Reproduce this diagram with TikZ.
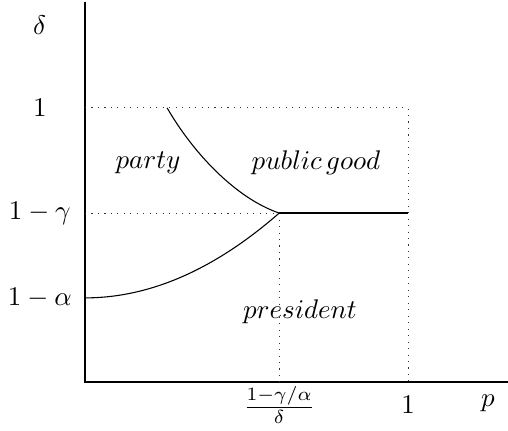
\documentclass[tikz,border=0pt]{standalone}
\usepackage{amsmath,amssymb}
\usepackage{tikz}
\usetikzlibrary{calc}

\begin{document}
\begin{tikzpicture}[
  axis/.style={semithick,black},
  guide/.style={dotted,black!80},
  bound/.style={black},
  region/.style={font=\normalsize}]
  \useasboundingbox (-1.108,-0.639) rectangle (5.512,4.977);
  % key points
  \coordinate (O) at (0,0);
  \coordinate (ytop) at (0,4.95);
  \coordinate (xend) at (5.51,0);
  \coordinate (one) at (0,3.57);
  \coordinate (oneg) at (0,2.20);
  \coordinate (onea) at (0,1.095);
  \coordinate (corner) at (4.21,3.57);
  \coordinate (pone) at (4.21,0);
  \coordinate (kink) at (2.53,2.20);
  \coordinate (kfoot) at (2.53,0);
  \coordinate (edge) at (4.21,2.20);
  \coordinate (cstart) at (1.07,3.57);
  % axes
  \draw[axis] (ytop) -- (O) -- (xend);
  % guides
  \draw[guide] (one) -- (corner) -- (pone);
  \draw[guide] (oneg) -- (kink) -- (kfoot);
  % boundaries
  \draw[bound] (cstart) .. controls (1.4,3.0) and (1.95,2.4) .. (kink);
  \draw[bound] (onea) .. controls (0.843,1.095) and (1.687,1.463) .. (kink);
  \draw[axis] (kink) -- (edge);
  % tick labels
  \node (lbldelta) at (-0.59,4.65) {$\delta$};
  \node (lblone) at (-0.59,3.57) {$1$};
  \node (lbloneg) at (-0.59,2.20) {$1-\gamma$};
  \node (lblonea) at (-0.59,1.095) {$1-\alpha$};
  \node (lblpstar) at (2.53,-0.30) {$\frac{1-\gamma/\alpha}{\delta}$};
  \node (lblpone) at (4.21,-0.30) {$1$};
  \node (lblp) at (5.25,-0.28) {$p$};
  % regions
  \node[region] (party) at (0.82,2.85) {$party$};
  \node[region] (pgood) at (3.01,2.85) {$public\,good$};
  \node[region] (pres) at (2.80,0.91) {$president$};
\end{tikzpicture}
\end{document}
